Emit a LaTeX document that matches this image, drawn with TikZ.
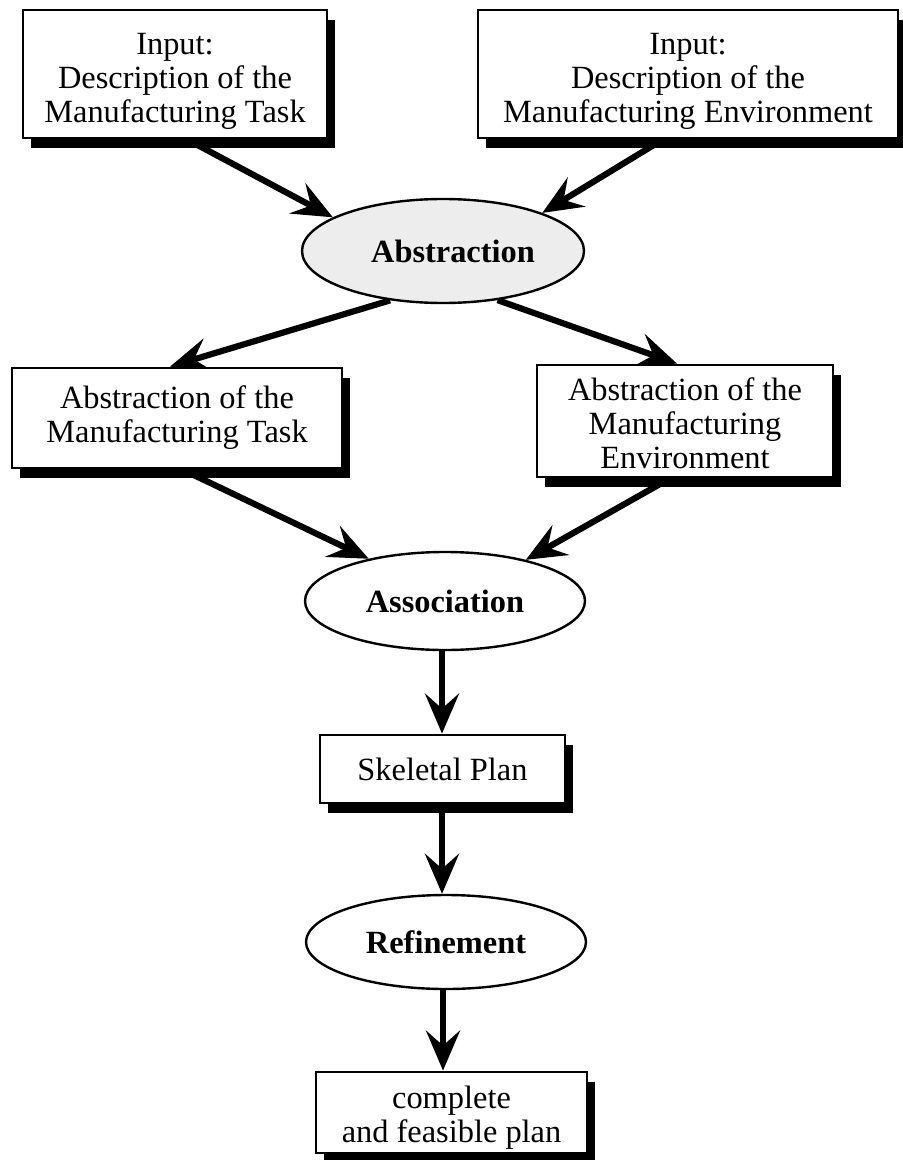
\documentclass[tikz,border=0pt]{standalone}
\usepackage{fontspec}
\setmainfont{Liberation Serif}
\usetikzlibrary{shapes.geometric,shadows,arrows.meta,backgrounds}
% invisible strut that lowers the text block inside a box
\newcommand{\toppad}[1]{\rule{0pt}{#1}}
\begin{document}
\begin{tikzpicture}[x=0.5pt,y=-0.5pt,
  box/.style={draw, line width=1.4pt, fill=white, align=center, inner sep=0pt,
    font=\fontsize{16.2}{17}\selectfont,
    drop shadow={shadow xshift=4pt, shadow yshift=-5pt, fill=black, opacity=1}},
  oval/.style={ellipse, draw, line width=1.2pt, fill=white, inner sep=0pt,
    font=\fontsize{16.2}{17}\selectfont\bfseries},
  arr/.style={line width=3.1pt, -{Stealth[length=20pt,width=17pt,inset=7.5pt]}}]

\useasboundingbox (0,0) rectangle (903,1160);

% input descriptions
\node[box, minimum width=152pt, minimum height=64pt] (inTask) at (175,74)
  {\toppad{17.5pt}Input:\\Description of the\\Manufacturing Task};
\node[box, minimum width=210pt, minimum height=64pt] (inEnv) at (688,74)
  {\toppad{17.5pt}Input:\\Description of the\\Manufacturing Environment};

% abstraction step
\node[oval, fill=black!7, minimum width=141pt, minimum height=52pt] (abs) at (443,251)
  {\hspace*{10pt}Abstraction};

\node[box, minimum width=165pt, minimum height=50pt] (absTask) at (177,418)
  {Abstraction of the\\Manufacturing Task};
\node[box, minimum width=148pt, minimum height=56pt] (absEnv) at (685,421)
  {\toppad{14pt}Abstraction of the\\Manufacturing\\Environment};

% association, skeletal plan, refinement, result
\node[oval, minimum width=140pt, minimum height=49pt] (assoc) at (445,601) {Association};
\node[box, minimum width=122.5pt, minimum height=34pt] (skel) at (442.5,769) {Skeletal Plan};
\node[oval, minimum width=140pt, minimum height=47pt] (refine) at (446,942) {Refinement};
\node[box, minimum width=135.5pt, minimum height=40.5pt] (plan) at (451.5,1112.5)
  {\toppad{16.5pt}complete\\and feasible plan};

\begin{pgfonlayer}{background}
  \draw[arr] ([xshift=6pt]inTask.south) -- (abs.163);
  \draw[arr] ([xshift=-12.5pt]inEnv.south) -- (abs.21);
  \draw[arr] (abs.223) -- ([xshift=-3.5pt]absTask.north);
  \draw[arr] (abs.318) -- ([xshift=-4pt]absEnv.north);
  \draw[arr] ([xshift=2.5pt]absTask.south) -- (assoc.151);
  \draw[arr] ([xshift=-7.5pt]absEnv.south) -- (assoc.27);
  \draw[arr] ([xshift=-1.5pt]assoc.south) -- ([xshift=-1.5pt]assoc.south |- skel.north);
  \draw[arr] ([xshift=-0.25pt]skel.south) -- ([xshift=-0.25pt]skel.south |- refine.north);
  \draw[arr] ([xshift=-1.5pt]refine.south) -- ([xshift=-1.5pt]refine.south |- plan.north);
\end{pgfonlayer}
\end{tikzpicture}
\end{document}
